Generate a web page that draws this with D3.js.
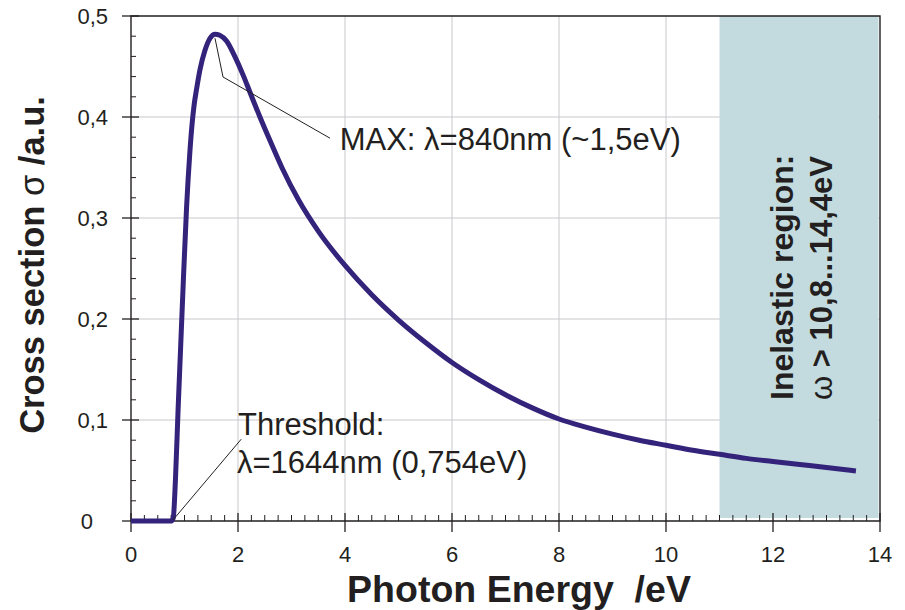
<!DOCTYPE html>
<html>
<head>
<meta charset="utf-8">
<script src="https://cdn.jsdelivr.net/npm/d3@7"></script>
<style>
  body { margin: 0; background: #fff; }
  svg text { font-family: "Liberation Sans", Arial, sans-serif; fill: #231f20; }
</style>
</head>
<body>
<div id="chart"></div>
<script>
// photon energy (eV) and cross section (a.u.)
var energy = [0, 0.754, 0.79, 0.83, 0.88, 0.93, 0.98, 1.04, 1.10, 1.14, 1.18, 1.227, 1.29, 1.383, 1.477, 1.57,
  1.66, 1.79, 1.94, 2.10, 2.22, 2.41, 2.62, 2.82, 3.13, 3.5, 4, 4.5, 5, 5.5, 6, 6.5, 7, 7.5, 8, 8.5, 9, 9.5,
  10, 10.5, 11, 11.5, 12, 12.5, 13, 13.55];
var sigma = [0, 0, 0.003, 0.04, 0.110, 0.175, 0.240, 0.312, 0.365, 0.392, 0.412, 0.428, 0.447, 0.466, 0.478, 0.482,
  0.481, 0.475, 0.460, 0.441, 0.425, 0.400, 0.374, 0.350, 0.318, 0.287, 0.253, 0.224, 0.199, 0.177, 0.157, 0.140, 0.125, 0.112, 0.101, 0.093, 0.086, 0.080,
  0.075, 0.070, 0.066, 0.062, 0.059, 0.056, 0.053, 0.0495];

var xTicks = [0, 2, 4, 6, 8, 10, 12, 14];
var yTicks = [0, 0.1, 0.2, 0.3, 0.4, 0.5];
var yTickLabels = ["0", "0,1", "0,2", "0,3", "0,4", "0,5"];
var inelasticFrom = 11; // eV, start of shaded region

var width = 905, height = 610,
    margin = {top: 16, right: 25, bottom: 89, left: 131};

var svg = d3.select("#chart").append("svg")
    .attr("width", width)
    .attr("height", height);

var x = d3.scaleLinear().domain([0, 14]).range([margin.left, width - margin.right]);
var y = d3.scaleLinear().domain([0, 0.5]).range([height - margin.bottom, margin.top]);

// grid lines
svg.append("g").selectAll("line.vg")
    .data(xTicks.filter(d => d > 0 && d < 14))
    .join("line")
    .attr("x1", d => x(d)).attr("x2", d => x(d))
    .attr("y1", y(0.5)).attr("y2", y(0))
    .attr("stroke", "#c8c8cc").attr("stroke-width", 1);
svg.append("g").selectAll("line.hg")
    .data(yTicks.filter(d => d > 0 && d < 0.5))
    .join("line")
    .attr("x1", x(0)).attr("x2", x(14))
    .attr("y1", d => y(d)).attr("y2", d => y(d))
    .attr("stroke", "#c8c8cc").attr("stroke-width", 1);

// inelastic region
svg.append("rect")
    .attr("x", x(inelasticFrom))
    .attr("y", y(0.5))
    .attr("width", x(14) - x(inelasticFrom) - 1.5)
    .attr("height", y(0.003) - y(0.5))
    .attr("fill", "#c3dbdf");

// minor ticks
var xMinor = d3.range(0, 14.001, 0.25).filter(d => d % 2 !== 0);
svg.append("g").selectAll("line")
    .data(xMinor)
    .join("line")
    .attr("x1", d => x(d)).attr("x2", d => x(d))
    .attr("y1", y(0)).attr("y2", y(0) - 6)
    .attr("stroke", "#231f20").attr("stroke-width", 1);
var yMinor = d3.range(0, 0.5001, 0.02).filter(d => Math.abs(d * 10 - Math.round(d * 10)) > 0.01);
svg.append("g").selectAll("line")
    .data(yMinor)
    .join("line")
    .attr("x1", x(0)).attr("x2", x(0) + 5)
    .attr("y1", d => y(d)).attr("y2", d => y(d))
    .attr("stroke", "#231f20").attr("stroke-width", 1);

// major ticks (crossing the axes)
svg.append("g").selectAll("line")
    .data(xTicks)
    .join("line")
    .attr("x1", d => x(d)).attr("x2", d => x(d))
    .attr("y1", y(0) - 8).attr("y2", y(0) + 11)
    .attr("stroke", "#231f20").attr("stroke-width", 1.3);
svg.append("g").selectAll("line")
    .data(yTicks)
    .join("line")
    .attr("x1", x(0) - 9).attr("x2", x(0) + 8)
    .attr("y1", d => y(d)).attr("y2", d => y(d))
    .attr("stroke", "#231f20").attr("stroke-width", 1.3);

// frame: axes, top and right border
svg.append("path")
    .attr("d", "M" + x(0) + "," + y(0) + "V" + y(0.5) + "H" + x(14) + "V" + y(0) + "H" + x(0))
    .attr("fill", "none")
    .attr("stroke", "#231f20").attr("stroke-width", 1.4);

// tick labels
svg.append("g").selectAll("text")
    .data(xTicks)
    .join("text")
    .attr("x", d => x(d))
    .attr("y", y(0) + 41)
    .attr("text-anchor", "middle")
    .style("font-size", "22px")
    .text(d => d);
svg.append("g").selectAll("text")
    .data(yTicks)
    .join("text")
    .attr("x", (d, i) => i === 0 ? 93 : 108)
    .attr("y", d => y(d) + 8)
    .attr("text-anchor", "end")
    .style("font-size", "22px")
    .text((d, i) => yTickLabels[i]);

// the curve
var line = d3.line()
    .x((d, i) => x(energy[i]))
    .y((d, i) => y(sigma[i]))
    .curve(d3.curveMonotoneX);
svg.append("path")
    .datum(energy)
    .attr("d", line)
    .attr("fill", "none")
    .attr("stroke", "#33237a")
    .attr("stroke-width", 5)
    .attr("stroke-linejoin", "round");

// annotation: maximum
svg.append("polyline")
    .attr("points", [[1.57, 0.478], [1.72, 0.4396], [3.72, 0.379]].map(p => x(p[0]) + "," + y(p[1])).join(" "))
    .attr("fill", "none").attr("stroke", "#231f20").attr("stroke-width", 1);
svg.append("text")
    .attr("x", x(3.9)).attr("y", y(0.367))
    .style("font-size", "31px")
    .text("MAX: \u03bb=840nm (~1,5eV)");

// annotation: threshold
svg.append("line")
    .attr("x1", x(0.785)).attr("y1", y(0.001))
    .attr("x2", x(2.06)).attr("y2", y(0.081))
    .attr("stroke", "#231f20").attr("stroke-width", 1);
svg.append("text")
    .attr("x", x(2.0)).attr("y", y(0.085))
    .style("font-size", "31px")
    .text("Threshold:");
svg.append("text")
    .attr("x", x(1.98)).attr("y", y(0.0475))
    .style("font-size", "31px")
    .text("\u03bb=1644nm (0,754eV)");

// inelastic region label
var inel = svg.append("g")
    .attr("transform", "translate(793,400) rotate(-90)");
inel.append("text")
    .style("font-size", "32px").style("font-weight", "bold")
    .text("Inelastic region:");
var t2 = inel.append("text")
    .attr("y", 39)
    .style("font-size", "31px").style("font-weight", "bold");
t2.append("tspan").style("font-weight", "normal").text("\u03c9");
t2.append("tspan").text(" > 10,8...14,4eV");

// axis titles
svg.append("text")
    .attr("x", 519).attr("y", 602)
    .attr("text-anchor", "middle")
    .style("font-size", "37.5px").style("font-weight", "bold")
    .style("white-space", "pre")
    .text("Photon Energy  /eV");
var yt = svg.append("text")
    .attr("transform", "translate(44,265) rotate(-90)")
    .attr("text-anchor", "middle")
    .style("font-size", "34.5px").style("font-weight", "bold");
yt.append("tspan").text("Cross section ");
yt.append("tspan").style("font-weight", "normal").text("\u03c3");
yt.append("tspan").text(" /a.u.");
</script>
</body>
</html>
